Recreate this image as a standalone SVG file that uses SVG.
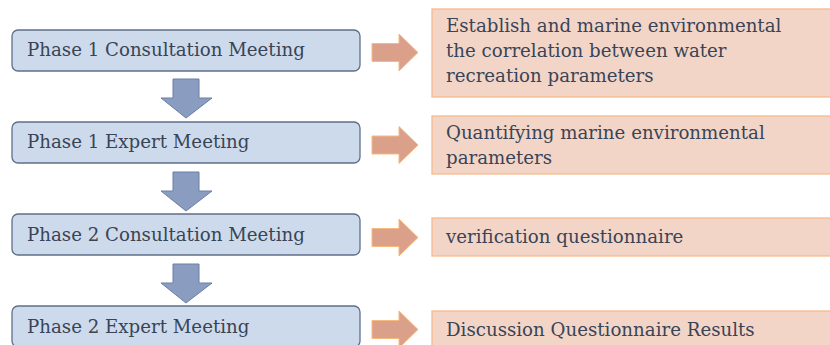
<svg xmlns="http://www.w3.org/2000/svg" width="830" height="345" viewBox="0 0 830 345">
<style>
.phase{fill:#cddaeb;stroke:#5f6f8a;stroke-width:1.3}
.res{fill:#f3d5c7;stroke:#f7bb8c;stroke-width:1.3}
.down{fill:#8a9dc1;stroke:#6b7fa6;stroke-width:1}
.right{fill:#daa08a;stroke:#f6b97f;stroke-width:1}
text{font-family:"DejaVu Serif","Liberation Serif",serif;font-size:18.2px;fill:#394456}
</style>
<defs>
<path id="da" d="M0,0 H26 V19 H39 L13,39 L-12,19 H0 Z"/>
<path id="ra" d="M0,-9 H27 V-18.5 L46,0 L27,18.5 V9 H0 Z"/>
</defs>
<g id="connectors">
<use href="#da" class="down" x="173" y="79"/>
<use href="#da" class="down" x="173" y="172"/>
<use href="#da" class="down" x="173" y="264"/>
<use href="#ra" class="right" x="372" y="52.5"/>
<use href="#ra" class="right" x="372" y="145"/>
<use href="#ra" class="right" x="372" y="237.5"/>
<use href="#ra" class="right" x="372" y="329.5"/>
</g>
<g id="p1c"><rect class="phase" x="12" y="30" width="348" height="41" rx="6"/><text x="27" y="56">Phase 1 Consultation Meeting</text></g>
<g id="p1e"><rect class="phase" x="12" y="122" width="348" height="41" rx="6"/><text x="27" y="148">Phase 1 Expert Meeting</text></g>
<g id="p2c"><rect class="phase" x="12" y="214" width="348" height="41" rx="6"/><text x="27" y="241">Phase 2 Consultation Meeting</text></g>
<g id="p2e"><rect class="phase" x="12" y="306" width="348" height="41" rx="6"/><text x="27" y="333">Phase 2 Expert Meeting</text></g>
<g id="r1"><rect class="res" x="432" y="9" width="410" height="88"/><text x="446" y="32">Establish and marine environmental</text><text x="446" y="57">the correlation between water</text><text x="446" y="82">recreation parameters</text></g>
<g id="r2"><rect class="res" x="432" y="116" width="410" height="58"/><text x="446" y="139">Quantifying marine environmental</text><text x="446" y="164">parameters</text></g>
<g id="r3"><rect class="res" x="432" y="218" width="410" height="38"/><text x="446" y="243">verification questionnaire</text></g>
<g id="r4"><rect class="res" x="432" y="311" width="410" height="50"/><text x="446" y="336">Discussion Questionnaire Results</text></g>
</svg>
